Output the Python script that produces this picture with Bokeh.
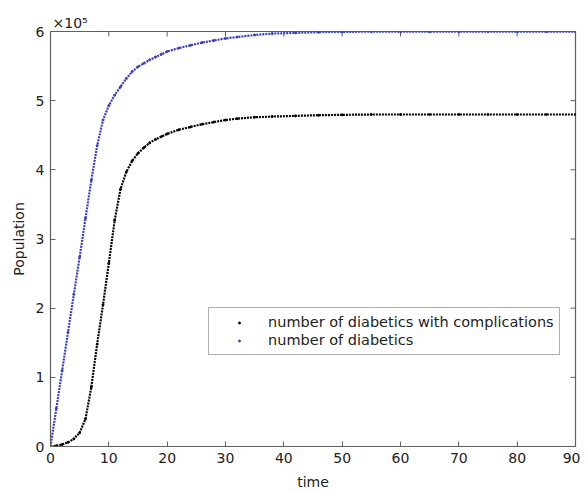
from bokeh.plotting import figure
from bokeh.models import Range1d, Legend, LegendItem, FixedTicker
from bokeh.embed import file_html
from bokeh.resources import INLINE

# time values and series (population in units of 1e5)
t_vals = [0, 1, 2, 3, 4, 5, 6, 7, 8, 9, 10, 11, 12, 13, 14, 15, 16, 17, 18, 19, 20,
          22, 24, 26, 28, 30, 32, 35, 38, 42, 46, 50, 55, 60, 65, 70, 75, 80, 85, 90]
diabetics = [0, 0.55, 1.10, 1.65, 2.20, 2.74, 3.30, 3.85, 4.35, 4.72, 4.93, 5.08, 5.20,
             5.32, 5.42, 5.49, 5.54, 5.59, 5.63, 5.67, 5.71,
             5.76, 5.80, 5.84, 5.87, 5.90, 5.92, 5.95, 5.97, 5.98, 5.99, 5.995, 5.997,
             5.998, 5.998, 5.999, 5.999, 5.999, 5.999, 5.999]
complications = [0, 0.01, 0.03, 0.06, 0.11, 0.20, 0.40, 0.86, 1.48, 2.05, 2.65, 3.27, 3.72,
                 3.97, 4.13, 4.24, 4.32, 4.39, 4.44, 4.48, 4.52,
                 4.58, 4.62, 4.66, 4.69, 4.72, 4.74, 4.76, 4.77, 4.78, 4.79, 4.795, 4.80,
                 4.80, 4.80, 4.80, 4.80, 4.80, 4.80, 4.80]
x_ticks = [0, 10, 20, 30, 40, 50, 60, 70, 80, 90]
y_ticks = [0, 1, 2, 3, 4, 5, 6]

FONT = "DejaVu Sans"
AX = "#606060"
BLUE = "#3a3ec2"

p = figure(width=580, height=492, output_backend="svg", toolbar_location=None,
           x_range=Range1d(0, 90), y_range=Range1d(0, 6),
           min_border_left=50, min_border_right=5, min_border_top=31, min_border_bottom=46)
p.grid.visible = False
p.outline_line_color = AX
p.outline_line_width = 1.2
p.background_fill_color = "white"
p.border_fill_color = "white"

p.title.text = "×10⁵"
p.title.text_font = FONT
p.title.text_font_size = "14px"
p.title.text_font_style = "normal"
p.title.text_color = "#222222"
p.title.align = "left"
p.title.offset = 2
p.title.standoff = 2

for ax in (p.xaxis[0], p.yaxis[0]):
    ax.axis_line_color = AX
    ax.major_tick_line_color = AX
    ax.major_tick_in = 5
    ax.major_tick_out = 0
    ax.minor_tick_line_color = None
    ax.major_label_text_font = FONT
    ax.major_label_text_font_size = "14px"
    ax.major_label_text_color = "#222222"
    ax.axis_label_text_font = FONT
    ax.axis_label_text_font_size = "14px"
    ax.axis_label_text_font_style = "normal"
    ax.axis_label_text_color = "#222222"

p.xaxis.ticker = FixedTicker(ticks=x_ticks)
p.yaxis.ticker = FixedTicker(ticks=y_ticks)
p.xaxis.axis_label = "time"
p.yaxis.axis_label = "Population"
p.xaxis.axis_label_standoff = 8
p.yaxis.axis_label_standoff = 6
p.xaxis.major_label_standoff = 6
p.yaxis.major_label_standoff = 6

# inward ticks on the top and right edges of the box (matlab style)
y_top = p.y_range.end
x_right = p.x_range.end
tick_len_y = 5 * (p.y_range.end - p.y_range.start) / 415.0
tick_len_x = 5 * (p.x_range.end - p.x_range.start) / 525.0
p.segment(x0=x_ticks, y0=[y_top] * len(x_ticks), x1=x_ticks,
          y1=[y_top - tick_len_y] * len(x_ticks), line_color=AX, line_width=1)
p.segment(x0=[x_right] * len(y_ticks), y0=y_ticks, x1=[x_right - tick_len_x] * len(y_ticks),
          y1=y_ticks, line_color=AX, line_width=1)

p.line(t_vals, complications, line_color="black", line_width=2.2, line_dash="2 1")
p.line(t_vals, diabetics, line_color=BLUE, line_width=2.2, line_dash="2 1")
r1 = p.scatter(t_vals, complications, size=2, color="black")
r2 = p.scatter(t_vals, diabetics, size=2, color=BLUE)

legend = Legend(items=[LegendItem(label="number of diabetics with complications", renderers=[r1]),
                       LegendItem(label="number of diabetics", renderers=[r2])],
                location=(158, 91), label_text_font=FONT, label_text_font_size="14.5px",
                label_text_color="#222222", border_line_color=AX, border_line_width=1.2,
                glyph_width=50, glyph_height=5, label_height=18, spacing=0,
                padding=5, margin=0, label_standoff=4)
p.add_layout(legend)

open("out.html", "w").write(file_html(p, INLINE))
